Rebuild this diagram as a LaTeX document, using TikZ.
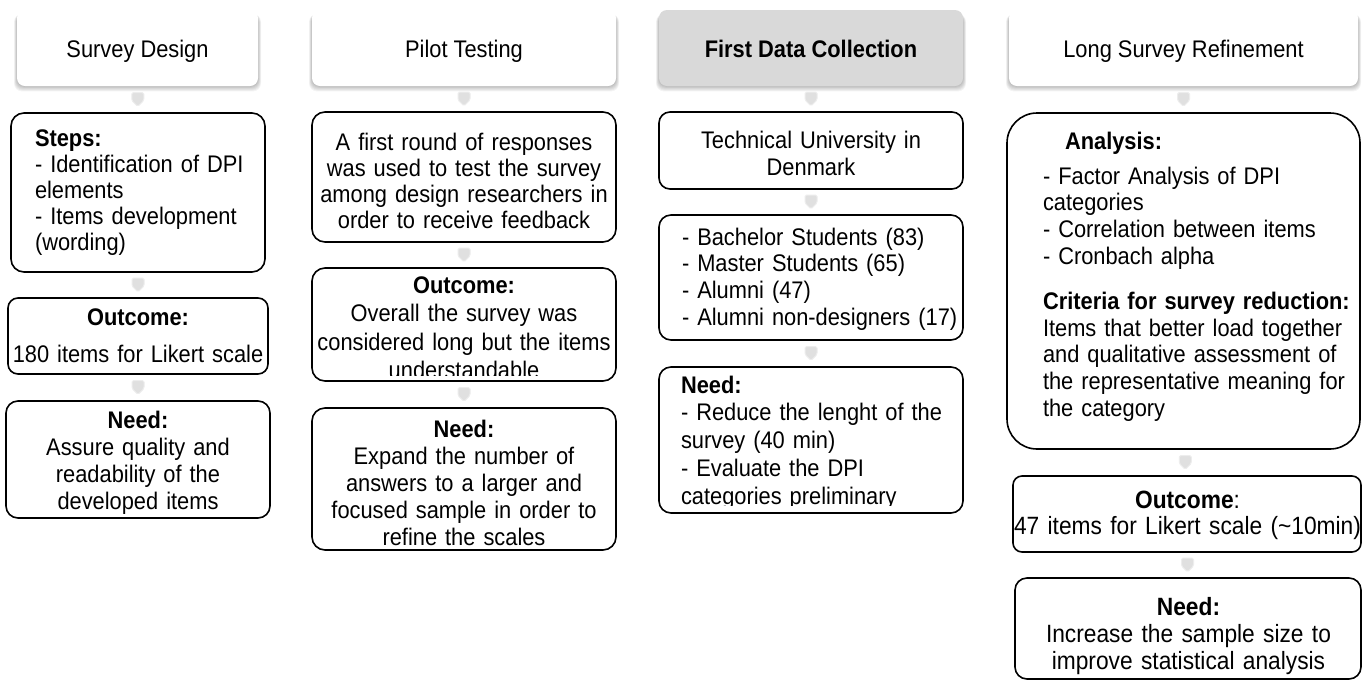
\documentclass[tikz,border=0pt]{standalone}
\usepackage{fontspec}
\setmainfont{Liberation Sans}[FakeStretch=0.91]
\usetikzlibrary{calc}

\tikzset{
  card/.style={draw=black, line width=1.6pt, fill=white, inner sep=0pt, outer sep=0pt},
  headcard/.style={fill=white, inner sep=0pt, outer sep=0pt},
  greyhead/.style={fill=black!15, inner sep=0pt, outer sep=0pt},
  body/.style={inner sep=0pt, outer sep=0pt, font=\fontsize{24}{26}\selectfont},
  chevfill/.style={fill=black!12, draw=black!7, line width=1pt, rounded corners=1.5pt},
}

% rounded box given by its corners (x1,y1) (x2,y2) and corner radius
\newcommand\cardat[7]{%
  \node[#7, rounded corners=#6pt, minimum width={(#4-#2)*1pt},
        minimum height={(#5-#3)*1pt}] (#1) at ({(#2+#4)/2},{(#3+#5)/2}) {};}

% soft shadow under a phase header
\newcommand\headshadow[4]{%
  \foreach \k in {1,...,6}{%
    \fill[black, opacity=0.045, rounded corners=8pt]
      ({#1-0.5*\k},{#2+4}) rectangle ({#3+0.5*\k},{#4+0.9*\k});}}

% small grey down-pointing chevron between two stacked boxes
\newcommand\chevron[2]{%
  \path (#1.south) -- (#2.north) coordinate[midway] (chevmid);
  \filldraw[chevfill] ($(chevmid)+(-6,-7)$) -- ++(12,0) -- ++(0,8)
     -- ++(-6,6) -- ++(-6,-6) -- cycle;}

\begin{document}
\begin{tikzpicture}[x=1pt,y=-1pt]
\useasboundingbox (0,0) rectangle (1363,681);
\fill[white] (0,0) rectangle (1363,681);

% ---------- phase headers ----------
\headshadow{17}{10}{258}{86}
\headshadow{312}{10}{616}{86}
\headshadow{659}{10}{963}{86}
\headshadow{1009}{10}{1358}{86}
\cardat{h1}{17}{10}{258}{86}{8}{headcard}
\cardat{h2}{312}{10}{616}{86}{8}{headcard}
\cardat{h3}{659}{10}{963}{86}{8}{greyhead}
\cardat{h4}{1009}{10}{1358}{86}{8}{headcard}
\node[body, anchor=base] (h1t) at (137.5,57) {Survey Design};
\node[body, anchor=base] (h2t) at (464,57) {Pilot Testing};
\node[body, anchor=base] (h3t) at (811,57) {\textbf{First Data Collection}};
\node[body, anchor=base] (h4t) at (1183.5,57) {Long Survey Refinement};

% ---------- boxes ----------
\cardat{s1}{11}{113}{265}{272}{13}{card}
\cardat{o1}{8}{298}{268}{374}{10}{card}
\cardat{n1}{6}{401}{270}{518}{12}{card}

\cardat{p1}{312}{112}{616}{242}{13}{card}
\cardat{p2}{312}{268}{616}{381}{13}{card}
\cardat{p3}{312}{408}{616}{550}{13}{card}

\cardat{t1}{659}{112}{963}{189}{11}{card}
\cardat{t2}{659}{215}{963}{340}{12}{card}
\cardat{t3}{659}{367}{963}{513}{12}{card}

\cardat{a1}{1007}{113}{1360}{449}{30}{card}
\cardat{a2}{1013}{476}{1361}{552}{9}{card}
\cardat{a3}{1015}{578}{1361}{679}{12}{card}

% ---------- chevrons ----------
\chevron{h1}{s1}
\chevron{s1}{o1}
\chevron{o1}{n1}
\chevron{h2}{p1}
\chevron{p1}{p2}
\chevron{p2}{p3}
\chevron{h3}{t1}
\chevron{t1}{t2}
\chevron{t2}{t3}
\chevron{h4}{a1}
\chevron{a1}{a2}
\chevron{a2}{a3}

% ---------- column 1 texts ----------
\node[body, anchor=base west, text width=228pt, align=left] (s1t) at (35,146)
  {\textbf{Steps:}\\- Identification of DPI\\elements\\- Items development\\(wording)};
\node[body, anchor=base, text width=258pt, align=center] (o1t) at (138,325)
  {\textbf{Outcome:}\\[11pt]180 items for Likert scale};
\begin{scope}
  \clip (6,401) rectangle (270,513);
  \node[body, anchor=base, text width=255pt, align=center,
        font=\fontsize{24}{27}\selectfont] (n1t) at (138,428)
    {\textbf{Need:}\\Assure quality and\\readability of the\\developed items};
\end{scope}

% ---------- column 2 texts ----------
\node[body, anchor=base, text width=300pt, align=center] (p1t) at (464,150)
  {A first round of responses\\was used to test the survey\\among design researchers in\\order to receive feedback};
\begin{scope}
  \clip (312,268) rectangle (616,375);
  \node[body, anchor=base, text width=300pt, align=center,
        font=\fontsize{24}{28.5}\selectfont] (p2t) at (464,293)
    {\textbf{Outcome:}\\Overall the survey was\\considered long but the items\\understandable};
\end{scope}
\node[body, anchor=base, text width=300pt, align=center,
      font=\fontsize{24}{27}\selectfont] (p3t) at (464,437)
  {\textbf{Need:}\\Expand the number of\\answers to a larger and\\focused sample in order to\\refine the scales};

% ---------- column 3 texts ----------
\node[body, anchor=base, text width=300pt, align=center,
      font=\fontsize{24}{27}\selectfont] (t1t) at (811,148)
  {Technical University in\\Denmark};
\node[body, anchor=base west, text width=280pt, align=left,
      font=\fontsize{24}{26.7}\selectfont] (t2t) at (682,245)
  {- Bachelor Students (83)\\- Master Students (65)\\- Alumni (47)\\- Alumni non-designers (17)};
\begin{scope}
  \clip (659,367) rectangle (963,505);
  \node[body, anchor=base west, text width=280pt, align=left,
        font=\fontsize{24}{27.75}\selectfont] (t3t) at (681,393)
    {\textbf{Need:}\\- Reduce the lenght of the\\survey (40 min)\\- Evaluate the DPI\\categories preliminary};
\end{scope}

% ---------- column 4 texts ----------
\node[body, anchor=base west, text width=340pt, align=left,
      font=\fontsize{24}{26.8}\selectfont] (a1t) at (1043,149)
  {\hspace*{22pt}\textbf{Analysis:}\\[8.2pt]- Factor Analysis of DPI\\categories\\- Correlation between items\\- Cronbach alpha\\[18pt]\textbf{Criteria for survey reduction:}\\Items that better load together\\and qualitative assessment of\\the representative meaning for\\the category};
\node[body, anchor=base, text width=370pt, align=center,
      font=\fontsize{25}{26}\selectfont] (a2t) at (1187.5,508)
  {\textbf{Outcome}:\\47 items for Likert scale (\textasciitilde10min)};
\node[body, anchor=base, text width=345pt, align=center,
      font=\fontsize{25}{27}\selectfont] (a3t) at (1188.5,615)
  {\textbf{Need:}\\Increase the sample size to\\improve statistical analysis};
\end{tikzpicture}
\end{document}
